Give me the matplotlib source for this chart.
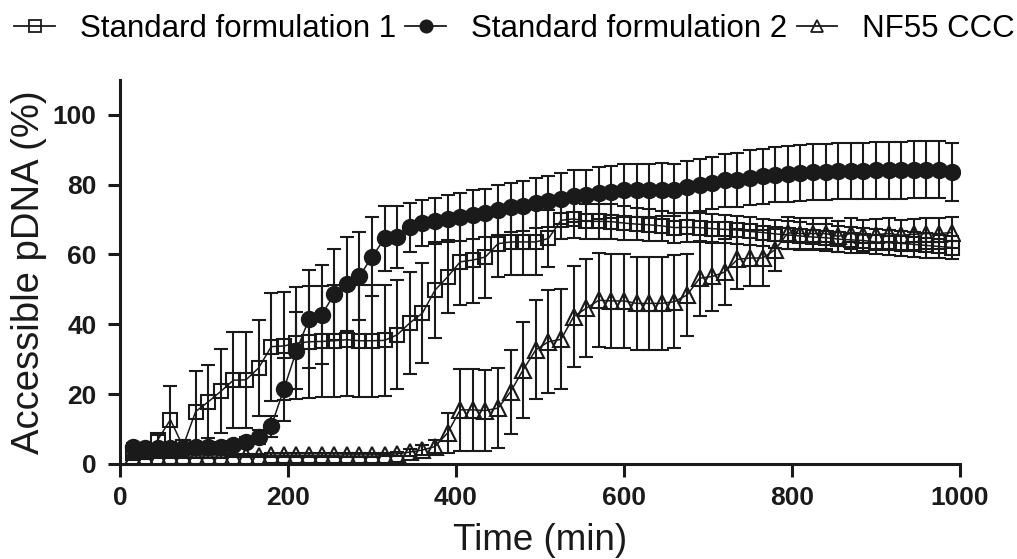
import numpy as np
import matplotlib
matplotlib.use("Agg")
import matplotlib.pyplot as plt
from matplotlib.lines import Line2D

plt.rcParams['font.family'] = ['Liberation Sans', 'DejaVu Sans']

# sampling times (min)
time_min = [15, 30, 45, 60, 75, 90, 105, 120, 135, 150, 165, 180, 195, 210, 225,
            240, 255, 270, 285, 300, 315, 330, 345, 360, 375, 390, 405, 420, 435,
            450, 465, 480, 495, 510, 525, 540, 555, 570, 585, 600, 615, 630, 645,
            660, 675, 690, 705, 720, 735, 750, 765, 780, 795, 810, 825, 840, 855,
            870, 885, 900, 915, 930, 945, 960, 975, 990]

# Standard formulation 1 (open squares)
sf1_mean = [3.0, 3.5, 6.9, 12.7, 5.0, 15.0, 17.8, 20.8, 24.0, 24.1, 27.5, 33.6,
            33.8, 34.6, 35.0, 35.1, 35.3, 35.6, 35.3, 35.3, 35.4, 37.0, 40.4,
            43.2, 49.8, 53.6, 57.9, 58.4, 59.3, 63.1, 63.6, 63.6, 63.6, 64.6,
            69.8, 70.2, 69.5, 69.5, 69.4, 69.0, 68.7, 68.5, 68.2, 67.7, 67.8,
            67.7, 67.4, 67.2, 67.0, 66.6, 66.3, 65.9, 65.6, 65.3, 65.0, 64.8,
            64.4, 64.2, 64.0, 63.6, 63.4, 63.2, 62.9, 62.6, 62.3, 62.0]
sf1_sd = [1.0, 1.5, 1.5, 9.5, 2.0, 11.5, 10.5, 12.0, 13.8, 13.8, 13.7, 15.5,
          15.5, 16.0, 16.0, 16.0, 16.0, 16.0, 16.0, 16.0, 15.8, 15.6, 14.7,
          14.3, 13.8, 10.5, 12.4, 12.4, 11.9, 9.5, 9.6, 9.6, 9.6, 8.2,
          5.3, 5.5, 5.0, 5.0, 5.0, 4.8, 4.6, 4.5, 4.4, 4.3, 4.2,
          4.2, 4.1, 4.0, 4.0, 4.0, 4.0, 4.0, 3.9, 3.9, 3.8, 3.8,
          3.8, 3.7, 3.7, 3.6, 3.6, 3.5, 3.5, 3.5, 3.4, 3.4]

# Standard formulation 2 (filled circles)
sf2_mean = [5.0, 4.5, 4.6, 4.7, 4.7, 4.8, 4.9, 5.0, 5.4, 6.3, 7.7, 10.8, 21.4,
            32.4, 41.5, 42.7, 48.6, 51.5, 53.8, 59.3, 64.6, 64.9, 67.8, 69.0,
            69.6, 70.3, 70.7, 71.4, 71.9, 72.8, 73.5, 73.8, 74.7, 75.3, 76.0,
            76.7, 76.9, 77.6, 77.9, 78.4, 78.4, 78.4, 78.6, 78.4, 79.3, 80.0,
            80.5, 81.2, 81.4, 82.0, 82.4, 82.9, 83.1, 83.4, 83.6, 83.6, 83.9,
            83.9, 83.9, 84.1, 84.1, 84.1, 84.3, 84.3, 84.3, 83.6]
sf2_sd = [1.0, 1.0, 1.0, 1.0, 1.0, 1.0, 1.0, 1.2, 1.3, 1.5, 2.0, 3.0, 9.0,
          11.0, 14.0, 14.2, 13.1, 13.5, 12.7, 11.3, 9.2, 8.9, 7.0, 6.7,
          6.7, 6.8, 6.9, 7.0, 7.0, 7.1, 7.1, 7.2, 7.2, 7.3, 7.3,
          7.4, 7.4, 7.5, 7.5, 7.6, 7.6, 7.6, 7.6, 7.5, 7.4, 7.4,
          7.5, 7.6, 7.7, 7.8, 7.8, 7.9, 8.0, 8.0, 8.0, 8.1, 8.1,
          8.1, 8.1, 8.2, 8.2, 8.2, 8.2, 8.2, 8.2, 8.2]

# NF55 CCC (open triangles)
nf55_mean = [2.0, 2.0, 2.1, 2.2, 2.2, 2.3, 2.3, 2.3, 2.4, 2.4, 2.4, 2.5, 2.5,
             2.5, 2.5, 2.5, 2.5, 2.6, 2.6, 2.6, 2.7, 2.9, 3.4, 4.0, 5.0, 8.9,
             15.5, 15.5, 15.3, 16.0, 20.7, 27.0, 32.7, 35.0, 35.7, 42.2, 44.6,
             46.9, 46.7, 46.7, 46.0, 46.0, 46.0, 46.5, 48.4, 53.2, 53.7, 55.0,
             58.6, 59.0, 59.0, 61.4, 66.2, 66.0, 66.0, 66.0, 65.2, 66.0, 65.5,
             65.7, 66.0, 65.5, 65.8, 66.0, 66.0, 66.3]
nf55_sd = [0.5, 0.5, 0.5, 0.5, 0.5, 0.5, 0.5, 0.5, 0.5, 0.5, 0.5, 0.5, 0.5,
           0.5, 0.5, 0.5, 0.5, 0.5, 0.5, 0.5, 0.5, 0.6, 1.0, 1.5, 2.0, 5.7,
           11.7, 11.7, 11.5, 11.5, 12.0, 13.7, 14.2, 14.7, 14.3, 14.5, 14.0,
           13.5, 13.5, 13.5, 13.3, 13.3, 13.3, 13.3, 11.8, 10.8, 10.0, 9.5,
           8.6, 8.0, 8.0, 6.0, 4.5, 4.5, 4.5, 4.5, 4.5, 4.5, 4.5,
           4.5, 4.5, 4.5, 4.5, 4.5, 4.5, 4.5]

labels = ['Standard formulation 1', 'Standard formulation 2', 'NF55 CCC']
ink = '#1a1a1a'

fig = plt.figure(figsize=(10.17, 5.59), dpi=100)
ax = fig.add_axes([0.118, 0.170, 0.826, 0.687])

series = [
    (sf1_mean, sf1_sd, 's', 'none', 10.5),
    (sf2_mean, sf2_sd, 'o', ink, 11.0),
    (nf55_mean, nf55_sd, '^', 'none', 11.5),
]

handles = []
for (m, sd, mk, fc, ms), lab in zip(series, labels):
    ax.errorbar(time_min, m, yerr=sd, fmt='none', ecolor=ink, elinewidth=1.5,
                capsize=5, capthick=1.5, zorder=2)
    ax.plot(time_min, m, color=ink, lw=1.1, marker=mk, markersize=ms,
            markerfacecolor=fc, markeredgecolor=ink, markeredgewidth=1.5,
            zorder=3)
    handles.append(Line2D([], [], color=ink, lw=1.3, marker=mk, markersize=ms * 0.8,
                          markerfacecolor=fc, markeredgecolor=ink,
                          markeredgewidth=1.3))

ax.set_xlim(0, 1000)
ax.set_ylim(0, 110)
ax.set_xticks([0, 200, 400, 600, 800, 1000])
ax.set_yticks([0, 20, 40, 60, 80, 100])

for side in ['top', 'right']:
    ax.spines[side].set_visible(False)
for side in ['left', 'bottom']:
    ax.spines[side].set_linewidth(2.2)
    ax.spines[side].set_color(ink)

ax.tick_params(axis='both', which='major', length=9, width=2.2, color=ink,
               labelsize=19, labelcolor=ink)
ax.tick_params(axis='y', pad=8)
ax.tick_params(axis='x', pad=7)
for lbl in ax.get_xticklabels() + ax.get_yticklabels():
    lbl.set_fontweight('bold')

ax.set_xlabel('Time (min)', fontsize=26.5, color=ink, labelpad=9)
ax.set_ylabel('Accessible pDNA (%)', fontsize=27.5, color=ink, labelpad=4)

fig.legend(handles, labels, loc='center left', bbox_to_anchor=(0.014, 0.948),
           ncol=3, frameon=False, fontsize=22.5, handlelength=1.3,
           handletextpad=0.8, columnspacing=0.3, borderpad=0, borderaxespad=0)

fig.savefig('out.png', dpi=100)
